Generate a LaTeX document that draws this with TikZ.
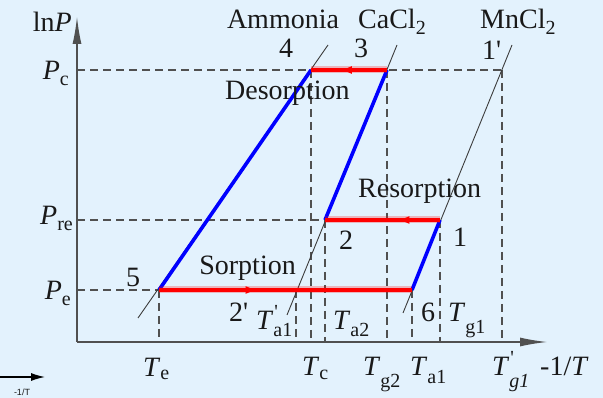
\documentclass[tikz,border=0pt]{standalone}
\usepackage{fontspec}
\setmainfont{Liberation Serif}
\newfontfamily\smallsans{Liberation Sans}
\usetikzlibrary{arrows.meta,decorations.markings}
\definecolor{bg}{RGB}{227,242,253}
\definecolor{axisgray}{RGB}{80,80,80}
\definecolor{txt}{RGB}{25,25,25}
\newcommand\subfont{\fontsize{20}{20}\selectfont}
\newcommand\Lab[3]{\textit{#1}\raisebox{-#3}{\subfont #2}}
\newcommand\LabP[3]{\textit{#1}\rlap{\raisebox{11pt}{\subfont\kern1pt\textquotesingle}}\raisebox{-#3}{\subfont #2}}
\begin{document}
\begin{tikzpicture}[x=1pt,y=-1pt,
  lbl/.style={inner sep=0pt, text=txt, font=\fontsize{28}{30}\selectfont},
  axis/.style={draw=axisgray, line width=1.3pt},
  guide/.style={draw=axisgray, line width=1.1pt, dash pattern=on 8pt off 5pt},
  iso/.style={draw=txt!85, line width=0.9pt},
  blueseg/.style={draw=blue, line width=3.6pt},
  redglow/.style={draw=red, line width=7pt, opacity=0.25},
  redseg/.style={draw=red, line width=3.4pt},
  midarrow/.style={postaction={decorate}, decoration={markings,
      mark=at position #1 with {\arrow{Latex[length=12pt,width=8pt]}}}}]
\fill[bg] (0,0) rectangle (603,398);
\useasboundingbox (0,0) rectangle (603,398);

% key points
\coordinate (O) at (77,342);
\coordinate (ytip) at (77,17);
\coordinate (xtip) at (547,342);
\coordinate (p4) at (311,70);
\coordinate (p3) at (387,70);
\coordinate (p1p) at (502,70);
\coordinate (p2) at (325,220);
\coordinate (p1) at (440,220);
\coordinate (p5) at (159,290);
\coordinate (p6) at (412,290);
\coordinate (p2p) at (296,290);
% isostere ends
\coordinate (amA) at (138,318);
\coordinate (amB) at (328,45);
\coordinate (caA) at (287,315);
\coordinate (caB) at (397,45);
\coordinate (mnA) at (403,313);
\coordinate (mnB) at (512,45);

% dashed guides
\draw[guide] (O |- p4) -- (p1p);
\draw[guide] (O |- p2) -- (p1);
\draw[guide] (O |- p5) -- (p5);
\foreach \p in {p5,p4,p2,p3,p6,p1,p1p,p2p}
  \draw[guide] (\p) -- (\p |- O);

% isosteres
\draw[iso] (amA) -- (amB);
\draw[iso] (caA) -- (caB);
\draw[iso] (mnA) -- (mnB);

% blue processes
\draw[blueseg] (p5) -- (p4);
\draw[blueseg] (p2) -- (p3);
\draw[blueseg] (p6) -- (p1);

% red processes
\draw[redglow] (p3) -- (p4);
\draw[redglow] (p1) -- (p2);
\draw[redglow] (p5) -- (p6);
\draw[redseg, midarrow=0.62] (p3) -- (p4);
\draw[redseg, midarrow=0.37] (p1) -- (p2);
\draw[redseg, midarrow=0.39] (p5) -- (p6);

% axes
\draw[axis, -{Latex[length=27pt,width=9pt]}] (O) -- (ytip);
\draw[axis, -{Latex[length=27pt,width=9pt]}] (O) -- (xtip);

% axis labels
\node[lbl, anchor=base east] (lnP) at (72,32) {ln\textit{P}};
\node[lbl, anchor=base east] (Pc) at (69,80) {\Lab{P}{c}{6pt}};
\node[lbl, anchor=base east] (Pre) at (73,225) {\Lab{P}{re}{6pt}};
\node[lbl, anchor=base east] (Pe) at (71,300) {\Lab{P}{e}{6pt}};
\node[lbl, anchor=base west] (xlab) at (540,375) {-1/\textit{T}};

\node[lbl, anchor=base west] (Te) at (143,377) {\Lab{T}{e}{3pt}};
\node[lbl, anchor=base west] (Tc) at (302,375) {\Lab{T}{c}{4pt}};
\node[lbl, anchor=base west] (Tg2) at (363,375) {\Lab{T}{g2}{13pt}};
\node[lbl, anchor=base west] (Ta1b) at (410,375) {\Lab{T}{a1}{8pt}};
\node[lbl, anchor=base west] (Tg1p) at (492,375) {\LabP{T}{\textit{g1}}{13pt}};

% curve names
\node[lbl, anchor=base] (amm) at (283,29) {Ammonia};
\node[lbl, anchor=base west] (cacl) at (358,29) {CaCl\raisebox{-6pt}{\subfont 2}};
\node[lbl, anchor=base west] (mncl) at (480,29) {MnCl\raisebox{-6pt}{\subfont 2}};

% state labels
\node[lbl, anchor=base] (n4) at (286,58) {4};
\node[lbl, anchor=base] (n3) at (361,58) {3};
\node[lbl, anchor=base west] (n1p) at (482,60) {1\textquotesingle};
\node[lbl, anchor=base] (n2) at (346,250) {2};
\node[lbl, anchor=base] (n1) at (460,247) {1};
\node[lbl, anchor=base] (n5) at (133,287) {5};
\node[lbl, anchor=base] (n6) at (428,322) {6};
\node[lbl, anchor=base west] (n2p) at (229,322) {2\textquotesingle};

% process labels
\node[lbl, anchor=base west] (des) at (225,100) {Desorption};
\node[lbl, anchor=base west] (res) at (358,198) {Resorption};
\node[lbl, anchor=base east] (sor) at (296,275) {Sorption};

% temperatures inside
\node[lbl, anchor=base west] (Ta1p) at (256,330) {\LabP{T}{a1}{7pt}};
\node[lbl, anchor=base west] (Ta2) at (333,330) {\Lab{T}{a2}{7pt}};
\node[lbl, anchor=base west] (Tg1) at (448,322) {\Lab{T}{g1}{12pt}};

% small legend arrow
\coordinate (sa) at (0,377);
\coordinate (sb) at (45,377);
\draw[black, line width=1.2pt, -{Latex[length=14pt,width=8pt]}] (sa) -- (sb);
\node[inner sep=0pt, font=\smallsans\fontsize{9}{9}\selectfont, text=txt] (sl) at (22,392) {-1/T};
\end{tikzpicture}
\end{document}
